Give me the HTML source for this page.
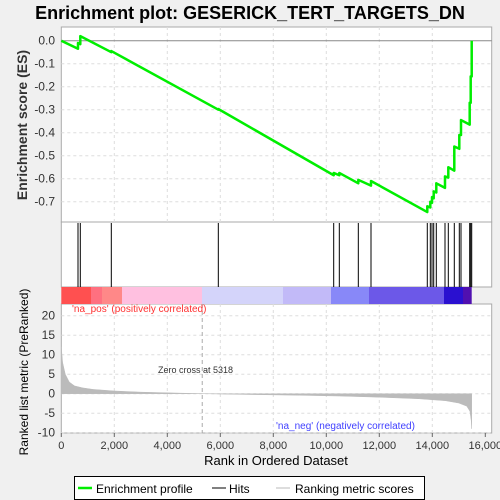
<!DOCTYPE html>
<html><head><meta charset="utf-8"><style>
body{margin:0;background:#f0f0f0;font-family:"Liberation Sans",sans-serif}
svg{display:block}
</style></head><body>
<svg id="c" width="500" height="500" xmlns="http://www.w3.org/2000/svg">
<rect width="500" height="500" fill="#f0f0f0"/>
<text x="250" y="19" text-anchor="middle" font-size="18" font-weight="bold" fill="#000">Enrichment plot: GESERICK_TERT_TARGETS_DN</text>
<rect x="61.3" y="27" width="430.4" height="195" fill="#fff" stroke="#aaa"/>
<rect x="61.3" y="222" width="430.4" height="65" fill="#fff" stroke="#aaa"/>
<rect x="61.3" y="304" width="430.4" height="129" fill="#fff" stroke="#aaa"/>
<g id="grid"></g>
<g id="cbar"></g>
<g id="metric"></g>
<g id="hits"></g>
<g id="es"></g>
<g id="axes" font-size="12" fill="#333"></g>
<text x="72" y="312" font-size="10" fill="#ff3030">'na_pos' (positively correlated)</text>
<text x="276" y="429" font-size="10" fill="#4040ff">'na_neg' (negatively correlated)</text>
<text x="158" y="373" font-size="9" fill="#333">Zero cross at 5318</text>
<text x="276" y="465" text-anchor="middle" font-size="13" fill="#000">Rank in Ordered Dataset</text>
<text transform="translate(27,125) rotate(-90)" text-anchor="middle" font-size="14" font-weight="bold" fill="#333">Enrichment score (ES)</text>
<text transform="translate(28,372) rotate(-90)" text-anchor="middle" font-size="12" fill="#000">Ranked list metric (PreRanked)</text>
<g>
<rect x="74.5" y="476.5" width="350" height="23" fill="#fff" stroke="#000"/>
<line x1="78" y1="488" x2="92" y2="488" stroke="#00ee00" stroke-width="2.5"/>
<text x="96" y="493" font-size="12" fill="#000">Enrichment profile</text>
<line x1="212" y1="488" x2="226" y2="488" stroke="#000"/>
<text x="229" y="493" font-size="12" fill="#000">Hits</text>
<line x1="276" y1="488" x2="290" y2="488" stroke="#bbb"/>
<text x="295" y="493" font-size="12" fill="#000">Ranking metric scores</text>
</g>
</svg>
<script>
const xTicks=[0,2000,4000,6000,8000,10000,12000,14000,16000];
const esTicks=[0,-0.1,-0.2,-0.3,-0.4,-0.5,-0.6,-0.7];
const mTicks=[20,15,10,5,0,-5,-10];
const hitRanks=[630,717,1887,5925,10279,10491,11208,11687,13811,13925,13989,14053,14151,14479,14604,14830,15019,15083,15411,15449,15487];
const esBefore=[-0.035,-0.015,-0.05,-0.3,-0.585,-0.585,-0.62,-0.63,-0.745,-0.725,-0.705,-0.685,-0.66,-0.64,-0.595,-0.565,-0.47,-0.41,-0.365,-0.27,-0.155];
const esAfter=[-0.01,0.02,-0.045,-0.297,-0.575,-0.575,-0.605,-0.61,-0.72,-0.70,-0.68,-0.655,-0.62,-0.59,-0.55,-0.46,-0.41,-0.345,-0.27,-0.155,0.0];
const metricRanks=[0,50,150,300,500,800,1200,2000,3000,5318,7000,9000,10500,12000,13500,14500,15000,15300,15420,15470,15487];
const metricVals=[12,8,5,3,2,1.5,1.1,0.7,0.4,0,-0.2,-0.4,-0.6,-0.9,-1.3,-1.8,-2.4,-3.2,-4.5,-7,-9];
const NS="http://www.w3.org/2000/svg";
const X=v=>61.3+v*0.0265, YE=v=>40.7-v*230, YM=v=>393.7-v*3.9;
function mk(t,a,p){const e=document.createElementNS(NS,t);for(const k in a)e.setAttribute(k,a[k]);document.getElementById(p).appendChild(e);return e;}
xTicks.forEach(t=>{
 if(t>0&&t<16000){let g=mk('line',{x1:X(t),x2:X(t),y1:27,y2:222,stroke:'#ddd','stroke-dasharray':'3,3'},'grid');
 
 let g2=mk('line',{x1:X(t),x2:X(t),y1:304,y2:433,stroke:'#ddd','stroke-dasharray':'3,3'},'grid');
 }
 let l=mk('text',{x:X(t),y:449,'text-anchor':'middle','font-size':'11'},'axes');l.textContent=t.toLocaleString('en-US');
 
 mk('line',{x1:X(t),x2:X(t),y1:433,y2:437,stroke:'#666'},'axes');
});
esTicks.forEach(t=>{
 if(t!==0){let g=mk('line',{x1:61.3,x2:491.7,y1:YE(t),y2:YE(t),stroke:'#ddd','stroke-dasharray':'3,3'},'grid');}
 let l=mk('text',{x:55,y:YE(t)+4,'text-anchor':'end'},'axes');l.textContent=t.toFixed(1);
 
});
let z=mk('line',{x1:61.3,x2:491.7,y1:YE(0),y2:YE(0),stroke:'#888'},'grid');
mTicks.forEach(t=>{
 let g=mk('line',{x1:61.3,x2:491.7,y1:YM(t),y2:YM(t),stroke:'#ddd','stroke-dasharray':'3,3'},'grid');
 let l=mk('text',{x:55,y:YM(t)+4,'text-anchor':'end'},'axes');l.textContent=t;
 
});
let zc=mk('line',{x1:X(5318),x2:X(5318),y1:304,y2:433,stroke:'#aaa','stroke-dasharray':'4,3'},'grid');
const cb=[[61.3,91,'#ff5050'],[91,102,'#ff7080'],[102,122,'#ff8888'],[122,202,'#ffc0e0'],[202,283,'#d4d4fa'],[283,331,'#c2baf8'],[331,369,'#8888f8'],[369,444,'#6c58e8'],[444,463,'#2a10d0'],[463,471.7,'#5010b0']];
cb.forEach(s=>{let r=mk('rect',{x:s[0],y:287,width:s[1]-s[0],height:17,fill:s[2]},'cbar');});
let d='M'+X(0)+','+YM(0);metricRanks.forEach((r,i)=>d+=' L'+X(r)+','+YM(metricVals[i]));d+=' L'+X(15487)+','+YM(0)+'Z';
let ma=mk('path',{d:d,fill:'#bbb',stroke:'#bbb','stroke-width':'0.5'},'metric');
hitRanks.forEach(r=>{let h=mk('line',{x1:X(r),x2:X(r),y1:223,y2:287,stroke:'#000','stroke-width':'1'},'hits');});
let p='M'+X(0)+','+YE(0);hitRanks.forEach((r,i)=>{p+=' L'+X(r)+','+YE(esBefore[i])+' L'+X(r)+','+YE(esAfter[i]);});
let ep=mk('path',{d:p,fill:'none',stroke:'#00ee00','stroke-width':'2.5','stroke-linejoin':'round'},'es');
</script>
</body></html>
